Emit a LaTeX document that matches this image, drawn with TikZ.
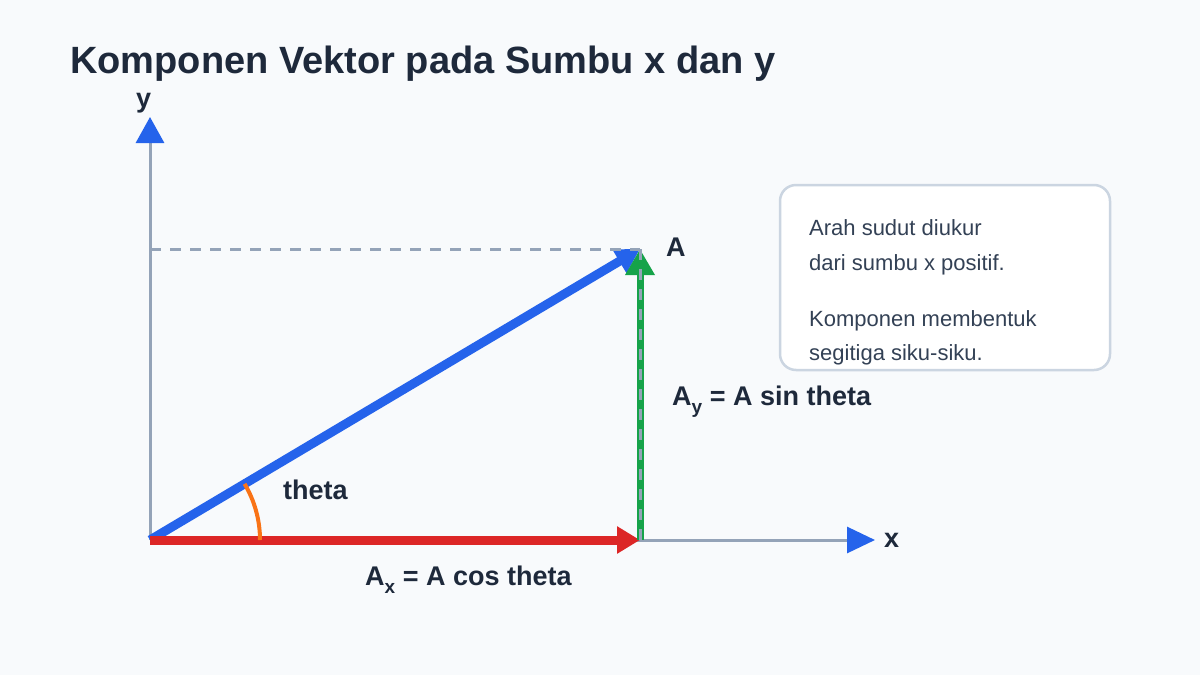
\documentclass[tikz,border=0pt]{standalone}
\usepackage{fontspec}
\setmainfont{Liberation Sans}
\usetikzlibrary{arrows.meta}
\definecolor{bgc}{HTML}{F8FAFC}
\definecolor{titlec}{HTML}{1E293B}
\definecolor{axisc}{HTML}{94A3B8}
\definecolor{vblue}{HTML}{2563EB}
\definecolor{vred}{HTML}{DC2626}
\definecolor{vgreen}{HTML}{16A34A}
\definecolor{vorange}{HTML}{F97316}
\definecolor{boxline}{HTML}{CBD5E1}
\definecolor{boxtext}{HTML}{334155}
\begin{document}
\begin{tikzpicture}[x=1pt,y=-1pt,
  lbl/.style={inner sep=0pt, anchor=base west, text=titlec, font=\fontsize{27}{32}\selectfont\bfseries},
  axisline/.style={draw=axisc, line width=3pt},
  projline/.style={draw=axisc, line width=3pt, dash pattern=on 11pt off 9pt},
  boxtxt/.style={inner sep=0pt, anchor=base west, text=boxtext, font=\fontsize{22}{26}\selectfont}
]
\fill[bgc] (0,0) rectangle (1200,675);
\useasboundingbox (0,0) rectangle (1200,675);

\coordinate (O) at (150,540);
\coordinate (A) at (640,249);
\coordinate (AX) at (640,540);
\coordinate (YP) at (150,249);
\coordinate (YT) at (150,117);
\coordinate (XT) at (875,540);

% title
\node[inner sep=0pt, anchor=base west, text=titlec, font=\fontsize{38}{45}\selectfont\bfseries] (title) at (70,73) {Komponen Vektor pada Sumbu x dan y};

% axes
\draw[axisline, -{Triangle[length=26pt,width=28pt,color=vblue]}] (O) -- (YT);
\draw[axisline, -{Triangle[length=28pt,width=26pt,color=vblue]}] (O) -- (XT);
\node[lbl] (ylab) at (136,107) {y};
\node[lbl] (xlab) at (884,547) {x};

% vectors
\draw[vblue, line width=9pt, -{Triangle[length=24pt,width=26pt]}] (O) -- (A);
\draw[vred, line width=9pt, -{Triangle[length=23pt,width=26pt]}] (O) -- (AX);
\draw[vgreen, line width=7pt, -{Triangle[length=26pt,width=28pt]}] (AX) -- (A);

% projection lines
\draw[projline] (YP) -- (A);
\draw[projline] (A) -- (AX);

% angle arc
\draw[vorange, line width=4pt] (O) ++(110,0) arc[start angle=0, end angle=-30.7, radius=110];

% labels
\node[lbl] (alab) at (666,256) {A};
\node[lbl] (thlab) at (283,499) {theta};
\node[lbl] (aylab) at (672,405) {A\raisebox{-8pt}{\fontsize{19}{19}\selectfont y} = A sin theta};
\node[lbl] (axlab) at (365,585) {A\raisebox{-8pt}{\fontsize{19}{19}\selectfont x} = A cos theta};

% info box
\draw[fill=white, draw=boxline, line width=2.5pt, rounded corners=16pt] (780,185) rectangle (1110,370);
\node[boxtxt] (t1) at (809,235) {Arah sudut diukur};
\node[boxtxt] (t2) at (809,270) {dari sumbu x positif.};
\node[boxtxt] (t3) at (809,326) {Komponen membentuk};
\node[boxtxt] (t4) at (809,360) {segitiga siku-siku.};
\end{tikzpicture}
\end{document}
